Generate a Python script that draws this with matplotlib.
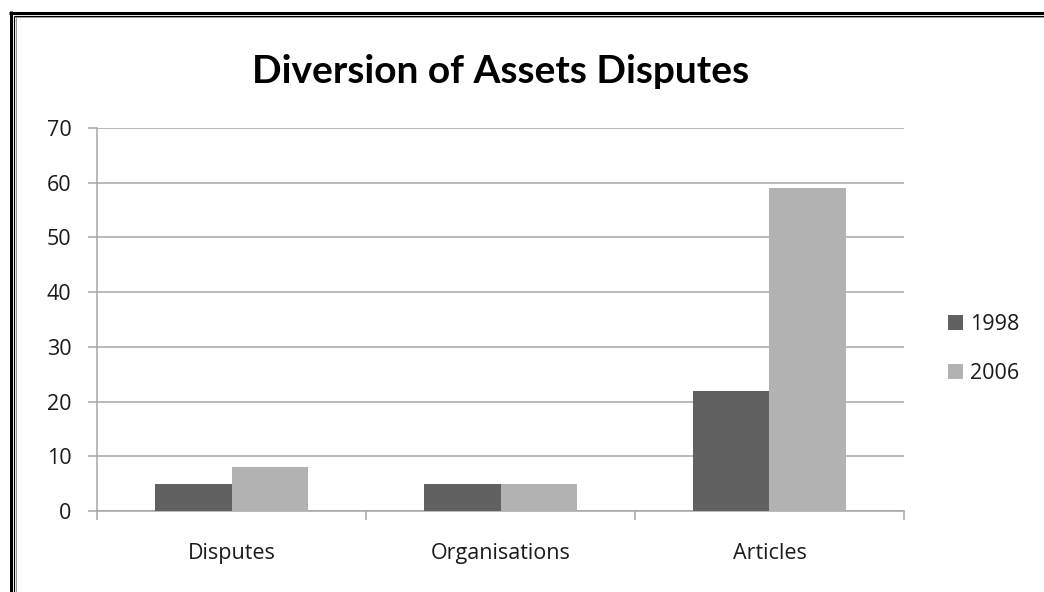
import numpy as np
import matplotlib.pyplot as plt
from matplotlib.lines import Line2D

# --- data ---
categories = ['Disputes', 'Organisations', 'Articles']
series_names = ['1998', '2006']
values_1998 = [5, 5, 22]
values_2006 = [8, 5, 59]
y_ticks = [0, 10, 20, 30, 40, 50, 60, 70]

W, H = 1044, 592
plt.rcParams['font.family'] = ['Open Sans', 'DejaVu Sans']

fig = plt.figure(figsize=(W / 100, H / 100), dpi=100)
fig.patch.set_facecolor('white')

ax = fig.add_axes([97 / W, 1 - 511 / H, (904 - 97) / W, (511 - 128) / H])

x = np.arange(len(categories))
bw = 0.286
ax.bar(x - bw / 2, values_1998, bw, color='#616161', label=series_names[0], zorder=3)
ax.bar(x + bw / 2, values_2006, bw, color='#b2b2b2', label=series_names[1], zorder=3)

grid_c = '#a6a6a6'
lab_c = '#1a1a1a'
fs = 15.5
ax.set_xlim(-0.5, 2.5)
ax.set_ylim(0, 70)
ax.set_yticks(y_ticks)
ax.yaxis.grid(True, color=grid_c, linewidth=1.1, zorder=0)
ax.set_axisbelow(True)

for s in ['top', 'right']:
    ax.spines[s].set_visible(False)
for s in ['left', 'bottom']:
    ax.spines[s].set_color(grid_c)
    ax.spines[s].set_linewidth(1.1)

# boundary ticks on x, labels at category centres
ax.set_xticks([-0.5, 0.5, 1.5, 2.5])
ax.set_xticklabels([])
ax.set_xticks(x, minor=True)
ax.set_xticklabels(categories, minor=True, fontsize=fs, color=lab_c)
ax.tick_params(axis='x', which='major', length=6.5, width=1.1, color=grid_c, direction='out')
ax.tick_params(axis='x', which='minor', length=0, pad=23)
ax.tick_params(axis='y', length=6.5, width=1.1, color=grid_c, pad=12, labelsize=fs, labelcolor=lab_c)

fig.text(501 / W, 1 - 83 / H, 'Diversion of Assets Disputes', ha='center', va='baseline',
         fontsize=28, fontweight='bold', color='black', family=['Lato', 'DejaVu Sans'])

ax.legend(loc='center left', bbox_to_anchor=(948 / W, 1 - 349 / H), bbox_transform=fig.transFigure,
          frameon=False, fontsize=fs, handlelength=0.7, handleheight=0.7,
          handletextpad=0.33, labelspacing=1.28, borderpad=0, borderaxespad=0,
          labelcolor=lab_c)

# double frame on the top and left edges
def px_line(xs, ys, lw_px, color):
    fig.add_artist(Line2D([v / W for v in xs], [1 - v / H for v in ys], transform=fig.transFigure,
                          color=color, linewidth=lw_px * 0.72, solid_capstyle='butt'))

px_line([10.5, 10.5], [11, H], 3, 'black')
px_line([9, W], [12.5, 12.5], 3, 'black')
px_line([14.2, 14.2], [15.5, H], 1.2, 'black')
px_line([13.6, W], [15.7, 15.7], 1.2, 'black')
px_line([15.5, 15.5], [16.5, H], 1, '#9a9a9a')
px_line([14.8, W], [16.9, 16.9], 1, '#9a9a9a')

fig.savefig('out.png', dpi=100)
